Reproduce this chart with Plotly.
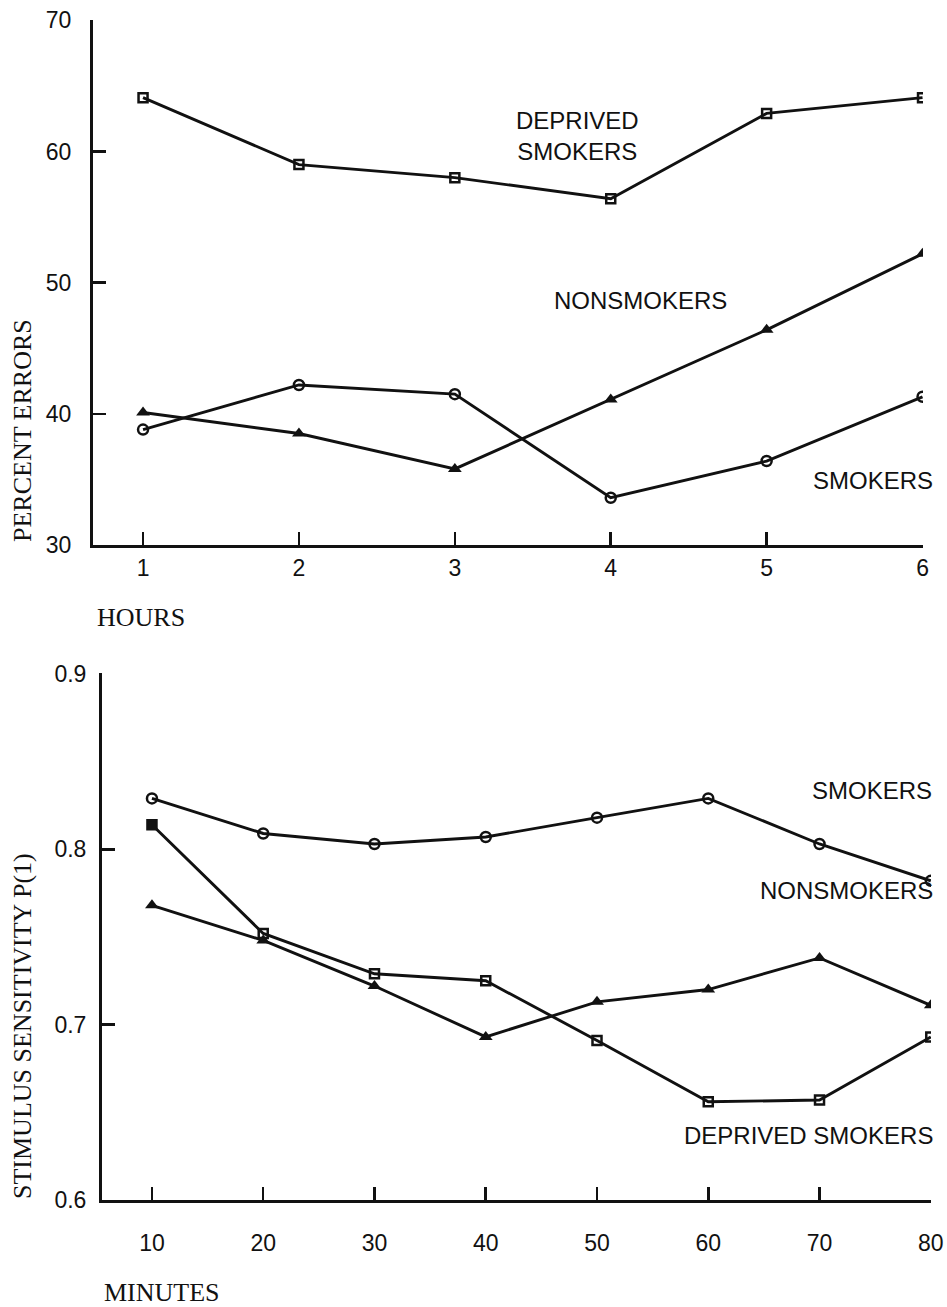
import plotly.graph_objects as go

# ---- Data: top panel (percent errors vs hours) ----
hours = [1, 2, 3, 4, 5, 6]
deprived_err = [64.1, 59.0, 58.0, 56.4, 62.9, 64.1]
nonsmokers_err = [40.1, 38.5, 35.8, 41.1, 46.4, 52.2]
smokers_err = [38.8, 42.2, 41.5, 33.6, 36.4, 41.3]
top_yticks = [30, 40, 50, 60, 70]

# ---- Data: bottom panel (stimulus sensitivity vs minutes) ----
minutes = [10, 20, 30, 40, 50, 60, 70, 80]
smokers_sens = [0.829, 0.809, 0.803, 0.807, 0.818, 0.829, 0.803, 0.782]
nonsmokers_sens = [0.768, 0.748, 0.722, 0.693, 0.713, 0.720, 0.738, 0.711]
deprived_sens = [0.814, 0.752, 0.729, 0.725, 0.691, 0.656, 0.657, 0.693]
bottom_yticks = [0.6, 0.7, 0.8, 0.9]

W, H = 947, 1307
BLACK = "#111111"
SANS = "Liberation Sans, Arial, sans-serif"
SERIF = "Liberation Serif, Times New Roman, serif"


def px(x):
    return x / W


def py(y):
    return 1 - y / H


fig = go.Figure()

line = dict(color=BLACK, width=2.9)

# top panel traces
fig.add_trace(go.Scatter(x=hours, y=deprived_err, mode="lines+markers", line=line,
                         marker=dict(symbol="square-open", size=9, color=BLACK, line=dict(width=2.5)),
                         xaxis="x", yaxis="y", showlegend=False))
fig.add_trace(go.Scatter(x=hours, y=nonsmokers_err, mode="lines+markers", line=line,
                         marker=dict(symbol="triangle-up", size=12, color=BLACK),
                         xaxis="x", yaxis="y", showlegend=False))
fig.add_trace(go.Scatter(x=hours, y=smokers_err, mode="lines+markers", line=line,
                         marker=dict(symbol="circle-open", size=10, color=BLACK, line=dict(width=2.5)),
                         xaxis="x", yaxis="y", showlegend=False))

# bottom panel traces
fig.add_trace(go.Scatter(x=minutes, y=smokers_sens, mode="lines+markers", line=line,
                         marker=dict(symbol="circle-open", size=10, color=BLACK, line=dict(width=2.5)),
                         xaxis="x2", yaxis="y2", showlegend=False))
fig.add_trace(go.Scatter(x=minutes, y=nonsmokers_sens, mode="lines+markers", line=line,
                         marker=dict(symbol="triangle-up", size=12, color=BLACK),
                         xaxis="x2", yaxis="y2", showlegend=False))
dep_symbols = ["square"] + ["square-open"] * (len(minutes) - 1)
fig.add_trace(go.Scatter(x=minutes, y=deprived_sens, mode="lines+markers", line=line,
                         marker=dict(symbol=dep_symbols, size=9, color=BLACK, line=dict(width=2.5, color=BLACK)),
                         xaxis="x2", yaxis="y2", showlegend=False))

axis_common = dict(showline=True, linecolor=BLACK, linewidth=3, ticks="inside",
                   tickcolor=BLACK, tickwidth=2.5, ticklen=13, showgrid=False,
                   zeroline=False, automargin=False, ticklabeloverflow="allow",
                   tickfont=dict(family=SANS, size=23, color=BLACK))

fig.update_layout(
    width=W, height=H,
    margin=dict(l=0, r=0, t=0, b=0, pad=0, autoexpand=False),
    paper_bgcolor="white", plot_bgcolor="white",
    xaxis=dict(domain=[px(93), px(923)], range=[0.679, 6.003], tickvals=hours,
               anchor="y", ticklabelstandoff=0, **axis_common),
    yaxis=dict(domain=[py(545), py(20)], range=[30, 70.02], tickvals=top_yticks,
               anchor="x", ticklabelstandoff=14, **axis_common),
    xaxis2=dict(domain=[px(102), px(931)], range=[5.51, 80.02], tickvals=minutes,
                anchor="y2", ticklabelstandoff=20, **axis_common),
    yaxis2=dict(domain=[py(1200), py(673)], range=[0.6, 0.9005], tickvals=bottom_yticks,
                tickformat=".1f", anchor="x2", ticklabelstandoff=8, **axis_common),
)


def label(text, x, y, size=24, family=SANS, angle=0):
    fig.add_annotation(text=text, x=px(x), y=py(y), xref="paper", yref="paper",
                       showarrow=False, xanchor="center", yanchor="middle",
                       textangle=angle, font=dict(family=family, size=size, color=BLACK))


# series labels (top)
label("DEPRIVED<br>SMOKERS", 577, 136)
label("NONSMOKERS", 640, 300)
label("SMOKERS", 873, 480)
# series labels (bottom)
label("SMOKERS", 872, 791)
label("NONSMOKERS", 846, 890)
label("DEPRIVED SMOKERS", 808, 1135)

# axis titles
label("PERCENT ERRORS", 22, 431, size=26, family=SERIF, angle=-90)
label("HOURS", 141, 617, size=26, family=SERIF)
label("STIMULUS SENSITIVITY P(1)", 22, 1026, size=26, family=SERIF, angle=-90)
label("MINUTES", 162, 1292, size=26, family=SERIF)

# remove the default page margin so the figure fills the window exactly
fig.write_html("out.html",
               config={"displayModeBar": False, "staticPlot": True},
               post_script="document.body.style.margin='0';document.body.style.overflow='hidden';")
